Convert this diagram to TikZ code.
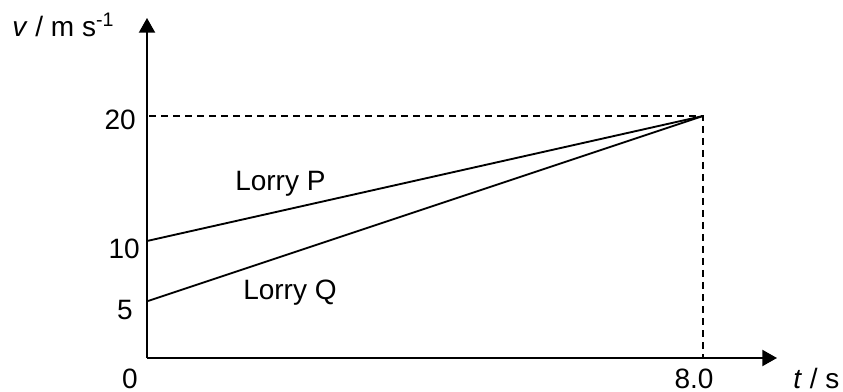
\documentclass[tikz,border=0pt]{standalone}
\usepackage{fontspec}
\setmainfont{Liberation Sans}
\usetikzlibrary{arrows.meta}
\colorlet{graph line}{black}
\tikzset{axis/.style={draw=graph line, line width=1.5pt, -{Triangle[length=11pt,width=12pt]}},
	lorry/.style={draw=graph line, line width=1.4pt},
	guide/.style={draw=graph line, line width=1.4pt, dash pattern=on 5.25pt off 3.75pt},
	lbl/.style={font=\fontsize{21}{25}\selectfont, inner sep=0pt}}

\begin{document}
\begin{tikzpicture}[x=0.75pt,y=-0.75pt]
		\useasboundingbox (0,0) rectangle (843,392);
		\coordinate (o) at (147,358);
		\coordinate (ytop) at (147,18);
		\coordinate (xend) at (777,358);
		\coordinate (p0) at (147,241);
		\coordinate (q0) at (148,301);
		\coordinate (y20) at (149,116);
		\coordinate (e) at (703,116);
		\coordinate (t8) at (703,357);
		% dashed guides
		\draw[guide] (y20) -- (e) -- (t8);
		% axes
		\draw[axis] (o) -- (ytop);
		\draw[axis] (o) -- (xend);
		% lorries
		\draw[lorry] (p0) -- (e);
		\draw[lorry] (q0) -- (e);
		
		\node[lbl, anchor=base west] (vlab) at (12,37) {\textit{v} / m s\textsuperscript{-1}};
		\node[lbl, anchor=base west] (tlab) at (793,388) {\textit{t} / s};
		\node[lbl, anchor=base east] (v20) at (136,130) {20};
		\node[lbl, anchor=base east] (v10) at (140,258) {10};
		\node[lbl, anchor=base east] (v5) at (133,320) {5};
		\node[lbl, anchor=base east] (v0) at (138,388) {0};
		\node[lbl, anchor=base] (t8lab) at (694,388) {8.0};
		\node[lbl, anchor=base west] (lp) at (235,191) {Lorry P};
		\node[lbl, anchor=base west] (lq) at (243,300) {Lorry Q};
		\end{tikzpicture}
\end{document}
